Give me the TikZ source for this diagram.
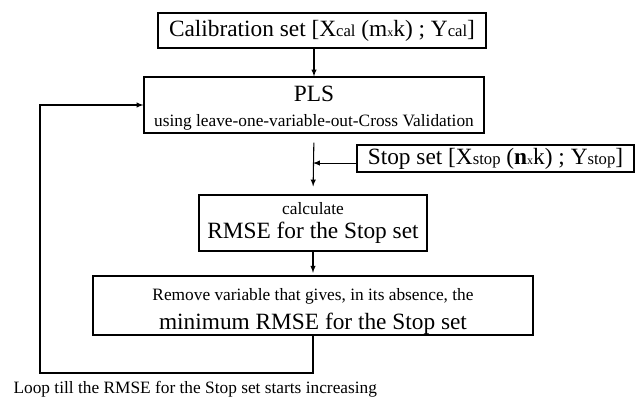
\documentclass[tikz,border=0pt]{standalone}
\usepackage{fontspec}
\setmainfont{Liberation Serif}
\usetikzlibrary{arrows}

\newcommand{\sml}[1]{{\fontsize{13}{18.5}\selectfont #1}}
\newcommand{\sub}[1]{{\fontsize{12.5}{15}\selectfont #1}}
\newcommand{\tny}[1]{{\fontsize{9}{10}\selectfont #1}}

\begin{document}
\begin{tikzpicture}[x=.75pt,y=-.75pt,>=latex,line width=.8pt,
	blk/.style={draw,inner sep=0pt,align=center},
	big/.style={font=\fontsize{17.5}{18.5}\selectfont}]
	\useasboundingbox (0,0) rectangle (635,403);

	\node[blk,big,minimum width=246pt,minimum height=26.25pt] (cal) at (322,30.5)
		{Calibration set [X\sub{cal} (m\tny{x}k) ; Y\sub{cal}]};
	\node[blk,big,minimum width=255pt,minimum height=42pt] (pls) at (314,105)
		{\rule{0pt}{16.5pt}PLS\\
		 \sml{using leave-one-variable-out-Cross Validation}};
	\node[blk,big,minimum width=207.75pt,minimum height=20.25pt] (stop) at (495.5,158.5)
		{Stop set [X\sub{stop} (\textbf{n}\tny{x}k) ; Y\sub{stop}]};
	\node[blk,big,minimum width=171pt,minimum height=42pt] (calc) at (313,223)
		{\sml{calculate}\\
		 RMSE for the Stop set};
	\node[blk,big,minimum width=330pt,minimum height=44.25pt] (remove) at (313,305.5)
		{\rule{0pt}{17.5pt}\sml{Remove variable that gives, in its absence, the}\\[3pt]
		 minimum RMSE for the Stop set};
	\node[anchor=base west,inner sep=0pt,font=\fontsize{13}{15}\selectfont] (looptxt) at (13,393)
		{Loop till the RMSE for the Stop set starts increasing};

	\draw[->] (cal.south -| pls.north) -- (pls.north);
	\draw[->,shorten <=6.75pt,shorten >=6pt] (pls.south) -- (calc.north);
	\draw[->] ([yshift=-3.4pt]stop.west) -- ([yshift=-3.4pt]stop.west -| calc.north);
	\draw[->,shorten >=2pt] (calc.south) -- (remove.north);

	% loop back
	\coordinate (lpbot) at (40,373);
	\draw[->] (remove.south) |- (lpbot) |- (pls.west);
\end{tikzpicture}
\end{document}
